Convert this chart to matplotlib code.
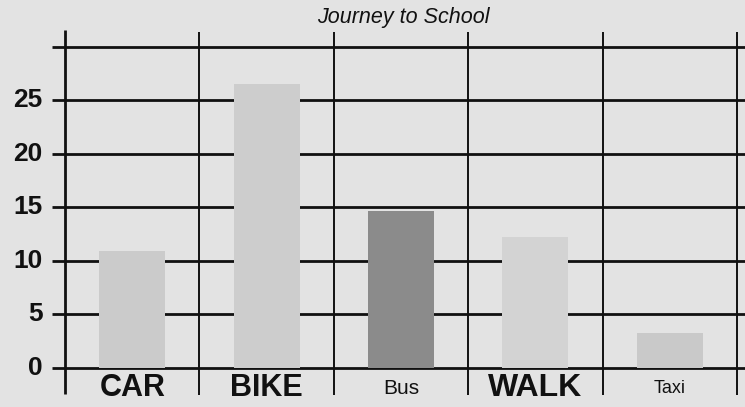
# Journey to School - grafico de barras estilo "escaneado"
import matplotlib.pyplot as plt

# ---------------- datos ----------------
modos = ["CAR", "BIKE", "Bus", "WALK", "Taxi"]
alumnos = [10.9, 26.5, 14.7, 12.2, 3.3]
colores = ["#cbcbcb", "#cdcdcd", "#8b8b8b", "#d3d3d3", "#c9c9c9"]
y_ticks = [0, 5, 10, 15, 20, 25]
y_lineas = [0, 5, 10, 15, 20, 25, 30]

# estilo de cada etiqueta del eje x (tamaño, peso)
etiq_size = [22, 22, 15, 23, 13]
etiq_weight = ["bold", "bold", "normal", "bold", "normal"]

plt.rcParams["font.family"] = ["Liberation Sans", "DejaVu Sans"]

fig = plt.figure(figsize=(7.45, 4.07), dpi=100)
fig.patch.set_facecolor("#e3e3e3")
ax = fig.add_axes([0, 0, 1, 1])
ax.set_facecolor("#e3e3e3")

# escala: 134.4 px por categoria, 10.7 px por unidad
ax.set_xlim(-0.9836, 4.5595)
ax.set_ylim(-3.645, 34.39)
ax.axis("off")

# lineas horizontales (con la "marca" a la izquierda del eje)
ax.hlines(y_lineas, -0.597, 4.56, color="#111111", lw=2.0, zorder=1)

# eje y y lineas verticales entre categorias
ax.vlines(-0.5, -2.4, 31.6, color="#111111", lw=2.0, zorder=1)
for xv in [0.5, 1.5, 2.5, 3.5, 4.5]:
    ax.vlines(xv, -2.5, 31.4, color="#111111", lw=1.4, zorder=1)

# barras
ax.bar(range(len(modos)), alumnos, width=0.49, color=colores, zorder=2)

# etiquetas del eje y
for v in y_ticks:
    ax.text(-0.665, v, str(v), ha="right", va="center",
            fontsize=19, fontweight="bold", color="#111111")

# etiquetas del eje x
for i, m in enumerate(modos):
    ax.text(i, -1.9, m, ha="center", va="center",
            fontsize=etiq_size[i], fontweight=etiq_weight[i], color="#111111")

# titulo
fig.text(403 / 745, 1 - 17 / 407, "Journey to School", ha="center", va="center",
         fontsize=15.5, fontstyle="italic", color="#111111")

plt.savefig("out.png", dpi=100, facecolor=fig.get_facecolor())
